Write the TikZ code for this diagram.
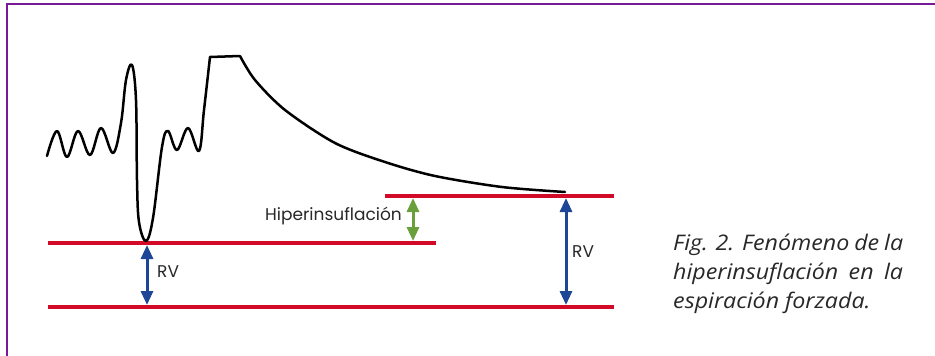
\documentclass[tikz,border=0pt]{standalone}
\usepackage{fontspec}
\setmainfont{Lato}
\newfontfamily\labelfont{Poppins}
\newfontfamily\capfont[FakeStretch=1.08]{Open Sans}
\usetikzlibrary{arrows.meta}
\definecolor{framepurple}{RGB}{120,25,150}
\definecolor{levelred}{RGB}{210,10,40}
\definecolor{arrowblue}{RGB}{30,70,150}
\definecolor{arrowgreen}{RGB}{105,160,60}
\definecolor{textgrey}{RGB}{40,40,40}
\tikzset{
  frameline/.style={framepurple, line width=2.5pt},
  level/.style={levelred, line width=3.5pt},
  trace/.style={black, line width=2.5pt, line join=round, line cap=round},
  dimarrow/.style={line width=3pt, {Triangle[length=14pt,width=12pt]}-{Triangle[length=14pt,width=12pt]}},
  lbl/.style={font=\labelfont\fontsize{17}{19}\selectfont, text=textgrey, inner sep=0pt},
}
\begin{document}
\begin{tikzpicture}[x=1pt,y=-1pt]
\useasboundingbox (0,0) rectangle (935,356);
% frame
\draw[frameline] (7,356) -- (7,4) -- (935,4);
% level lines
\coordinate (l1a) at (48,243); \coordinate (l1b) at (436,243);
\coordinate (l2a) at (48,307); \coordinate (l2b) at (614,307);
\coordinate (l3a) at (385,196); \coordinate (l3b) at (614,196);
\draw[level] (l1a) -- (l1b);
\draw[level] (l2a) -- (l2b);
\draw[level] (l3a) -- (l3b);
% trace
\draw[trace] plot[smooth, tension=0.6] coordinates {
  (47,156) (57,131) (67,157) (78,131) (90,155) (101,128) (113,153)
  (121,123) (126,80) (132,65) (136,100) (137,180) (139,222) (146,241)
  (153,218) (162,147) (168,131) (177,150) (188,128) (199,151) (204,110) (210,57)}
  -- (240,56)
  plot[smooth] coordinates {(240,56) (255,80) (285,110) (335,143) (385,162) (435,176) (502,187) (565,192)};
% arrows
\coordinate (a1t) at (147,243); \coordinate (a1b) at (147,307);
\coordinate (a2t) at (566,196); \coordinate (a2b) at (566,307);
\coordinate (a3t) at (413,196); \coordinate (a3b) at (413,243);
\draw[dimarrow, arrowblue, shorten <=2pt, shorten >=2pt] (a1t) -- (a1b);
\draw[dimarrow, arrowblue, shorten <=2pt, shorten >=2pt] (a2t) -- (a2b);
\draw[dimarrow, arrowgreen, shorten <=2pt, shorten >=2pt] (a3t) -- (a3b);
% labels
\node[lbl, anchor=west] (rv1) at (157,271.5) {RV};
\node[lbl, anchor=west] (rv2) at (572,251.5) {RV};
\node[lbl, anchor=east] (hip) at (402,216.5) {Hiperinsuflación};
% caption
\node[anchor=north west, inner sep=0pt, text=textgrey] (cap) at (673,234) {\parbox[t]{230pt}{\capfont\itshape\fontsize{21.5}{29}\selectfont\parindent=0pt
Fig. 2. Fenómeno de la\linebreak hiperinsuflación en la\linebreak espiración forzada.}};
\end{tikzpicture}
\end{document}
